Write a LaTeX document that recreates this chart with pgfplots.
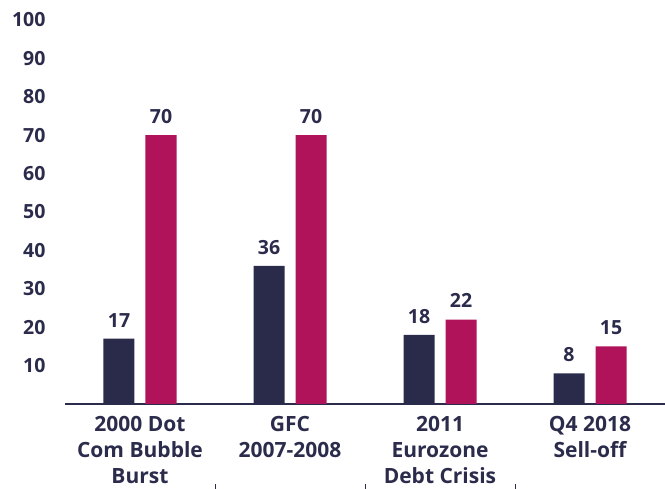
\documentclass[border=0pt]{standalone}
\usepackage{fontspec}
\setmainfont{Open Sans}
\usepackage{pgfplots}
\pgfplotsset{compat=1.18}
\definecolor{navy}{HTML}{2A2A4B}
\definecolor{mag}{HTML}{B01359}
\definecolor{txt}{HTML}{2B2B4C}
\begin{document}
\begin{tikzpicture}
\begin{axis}[
  scale only axis, width=600pt, height=384pt,
  xmin=-0.5, xmax=3.5, ymin=0, ymax=100,
  axis x line*=bottom, axis y line*=left,
  x axis line style={draw=txt, line width=1.2pt, -},
  y axis line style={draw=none},
  xtick={0,1,2,3},
  xticklabels={{2000 Dot\\Com Bubble\\Burst},{GFC\\2007-2008},{2011\\Eurozone\\Debt Crisis},{Q4 2018\\Sell-off}},
  xticklabel style={align=center, font=\fontsize{21}{26}\selectfont\bfseries, text=txt, yshift=-9pt},
  major tick length=0pt,
  ytick={10,20,...,100},
  yticklabel style={font=\fontsize{19.5}{23}\selectfont\bfseries, text=txt, xshift=-16pt},
  /pgf/number format/assume math mode=true,
  clip=false,
  ybar, bar width=31pt,
  enlarge x limits=false,
  nodes near coords,
  nodes near coords style={font=\fontsize{19.5}{23}\selectfont\bfseries, text=txt, yshift=8pt, /pgf/number format/assume math mode=true},
]
\addplot[draw=none, fill=navy, bar shift=-21pt] coordinates {(0,17) (1,36) (2,18) (3,8)};
\addplot[draw=none, fill=mag, bar shift=21pt] coordinates {(0,70) (1,70) (2,22) (3,15)};
\pgfplotsinvokeforeach{0.5,1.5,2.5}{
  \draw[txt, line width=1pt] (axis cs:#1,-20.9) -- (axis cs:#1,-22.1);
}
\coordinate (sw) at (rel axis cs:0,0);
\end{axis}
\pgfresetboundingbox
\path ([shift={(-65pt,-85pt)}]sw) rectangle ([shift={(600pt,404pt)}]sw);
\end{tikzpicture}
\end{document}
